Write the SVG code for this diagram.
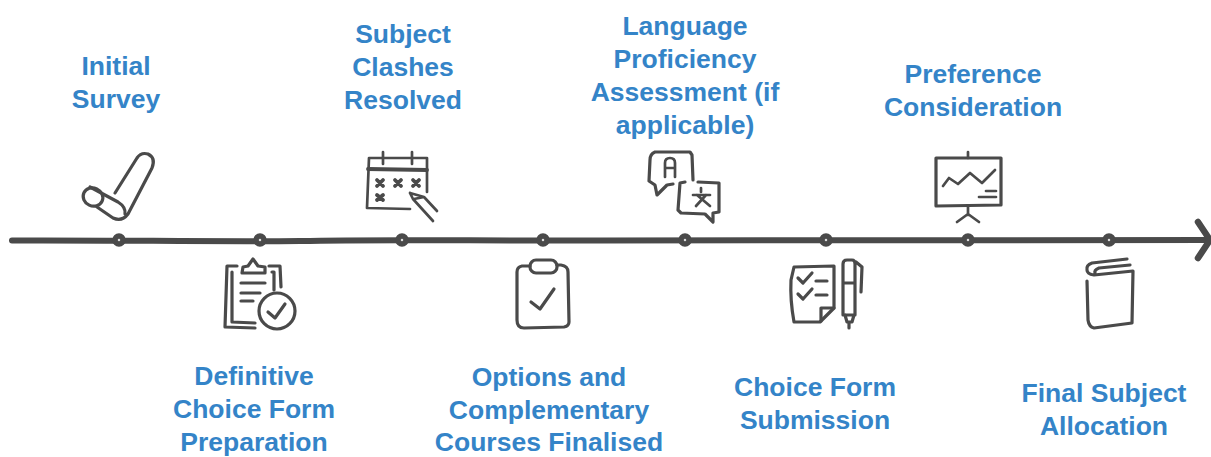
<svg xmlns="http://www.w3.org/2000/svg" width="1211" height="457" viewBox="0 0 1211 457">
<style>
.t{font-family:"Liberation Sans",Arial,sans-serif;font-weight:700;font-size:26.5px;fill:#3484c8;text-anchor:middle}
.i{fill:none;stroke:#4a4a4a;stroke-width:2.7;stroke-linecap:round;stroke-linejoin:round}
.b{stroke-width:3.2}
.h{stroke-width:3.8}
.d{fill:#ddd;stroke:#4a4a4a;stroke-width:5.5}
</style>
<rect width="1211" height="457" fill="#fff"/>
<g id="connectors">
<path d="M12 240.500C120 240 210 242 300 241C390 239 480 241 600 240.500C800 240 1000 240.500 1208 240" fill="none" stroke="#4a4a4a" stroke-width="6" stroke-linecap="round"/>
<path d="M1198 222L1210 240L1198 258" fill="none" stroke="#4a4a4a" stroke-width="6.5" stroke-linecap="round" stroke-linejoin="round"/>
</g>
<g id="node-1">
<circle class="d" cx="119" cy="240" r="4"/>
<text class="t" x="116" y="75">Initial</text><text class="t" x="116" y="108">Survey</text>
<ellipse class="i b" cx="93" cy="197" rx="10" ry="9" transform="rotate(25 93 197)"/>
<path class="i b" d="M90 187L118 202Q126 207 125 214M97 207L113 218Q122 222 128 214L152 168Q156 158 148 154Q141 152 137 158L115 193"/>
</g>
<g id="node-2">
<circle class="d" cx="260" cy="240" r="4"/>
<text class="t" x="254" y="385">Definitive</text><text class="t" x="254" y="418">Choice Form</text><text class="t" x="254" y="451">Preparation</text>
<path class="i b" d="M237 266L227 266L225 327L255 328M232 272L232 322L255 323M269 266L280 266L281 287M272 272L274 272L274 290"/>
<path class="i b" d="M242 273L243 267L248 266L253 259L258 266L265 267L265 273Z"/>
<path class="i b" d="M241 283L265 283M241 293L260 293M241 301L253 301"/>
<circle class="i b" cx="277" cy="311" r="18"/>
<path class="i b" d="M268 312L275 318L285 304"/>
</g>
<g id="node-3">
<circle class="d" cx="402" cy="240" r="4"/>
<text class="t" x="403" y="43">Subject</text><text class="t" x="403" y="76">Clashes</text><text class="t" x="403" y="109">Resolved</text>
<path class="i" d="M427 192L427 158L369 158L367 208L410 209"/>
<path class="i h" d="M368 169L427 170"/>
<path class="i" d="M383 152L383 164M412 152L412 164"/>
<path class="i h" d="M377 180L383 186M383 180L377 186M395 180L401 186M401 180L395 186M413 180L419 186M419 180L413 186M377 195L383 200M383 195L377 200"/>
<path class="i" d="M410 193L424 197L437 211M410 193L413 199L433 221M414 199L424 197"/>
</g>
<g id="node-4">
<circle class="d" cx="543" cy="240" r="4"/>
<text class="t" x="549" y="386">Options and</text><text class="t" x="549" y="419">Complementary</text><text class="t" x="549" y="451">Courses Finalised</text>
<path class="i b" d="M530 266L522 266Q517 267 517 272L517 320Q517 328 524 328L564 327Q569 326 569 322L568 272Q568 266 561 265L557 265"/>
<rect class="i b" x="530" y="260" width="27" height="13" rx="6"/>
<path class="i b" d="M531 302L540 309L554 289"/>
</g>
<g id="node-5">
<circle class="d" cx="685" cy="240" r="4"/>
<text class="t" x="685" y="35">Language</text><text class="t" x="685" y="68">Proficiency</text><text class="t" x="685" y="101">Assessment (if</text><text class="t" x="685" y="134">applicable)</text>
<path class="i b" d="M693 180L692 155L690 152L655 152Q650 154 650 160L649 181L655 185L657 195L667 185L673 184"/>
<path class="i" d="M665 177L665 163Q665 158 670 158Q675 158 675 163L675 177M665 168L675 168"/>
<path class="i b" d="M685 182L680 183L678 210L681 213L705 214L713 222L713 213L719 212L719 183L698 182"/>
<path class="i" d="M701 188L701 192M693 195L710 195M706 195L696 206M697 195L710 206"/>
</g>
<g id="node-6">
<circle class="d" cx="826" cy="240" r="4"/>
<text class="t" x="815" y="396">Choice Form</text><text class="t" x="815" y="429">Submission</text>
<path class="i b" d="M794 267L834 266L834 308L820 322L794 322Q790 300 791 280Z"/>
<path class="i b" d="M821 321L821 308L834 308"/>
<path class="i b" d="M798 278L803 283L812 273M816 281L827 281M798 294L803 299L812 289M816 295L827 295"/>
<path class="i b" d="M843 315L843 264Q843 260 847 260L852 260Q855 260 855 264L855 315ZM843 283L855 283M845 315L847 322L852 322L854 315M849 322L849 328M856 262L862 267L861 292"/>
</g>
<g id="node-7">
<circle class="d" cx="968" cy="240" r="4"/>
<text class="t" x="973" y="83">Preference</text><text class="t" x="973" y="116">Consideration</text>
<path class="i b" d="M936 158L1001 158L1001 205L936 206Z"/>
<path class="i" d="M968 152L968 158M968 207L968 215M957 222L968 214L979 222"/>
<path class="i" d="M943 186L949 178L958 184L970 173L982 183L995 170M986 191L996 191M979 197L996 197"/>
</g>
<g id="node-8">
<circle class="d" cx="1109" cy="240" r="4"/>
<text class="t" x="1104" y="402">Final Subject</text><text class="t" x="1104" y="435">Allocation</text>
<path class="i b" d="M1087 281L1088 320Q1089 327 1094 328L1132 323L1133 271L1094 275Q1087 274 1087 270Q1086 265 1092 263L1127 259M1130 265L1099 268Q1094 270 1095 273"/>
</g>
</svg>
